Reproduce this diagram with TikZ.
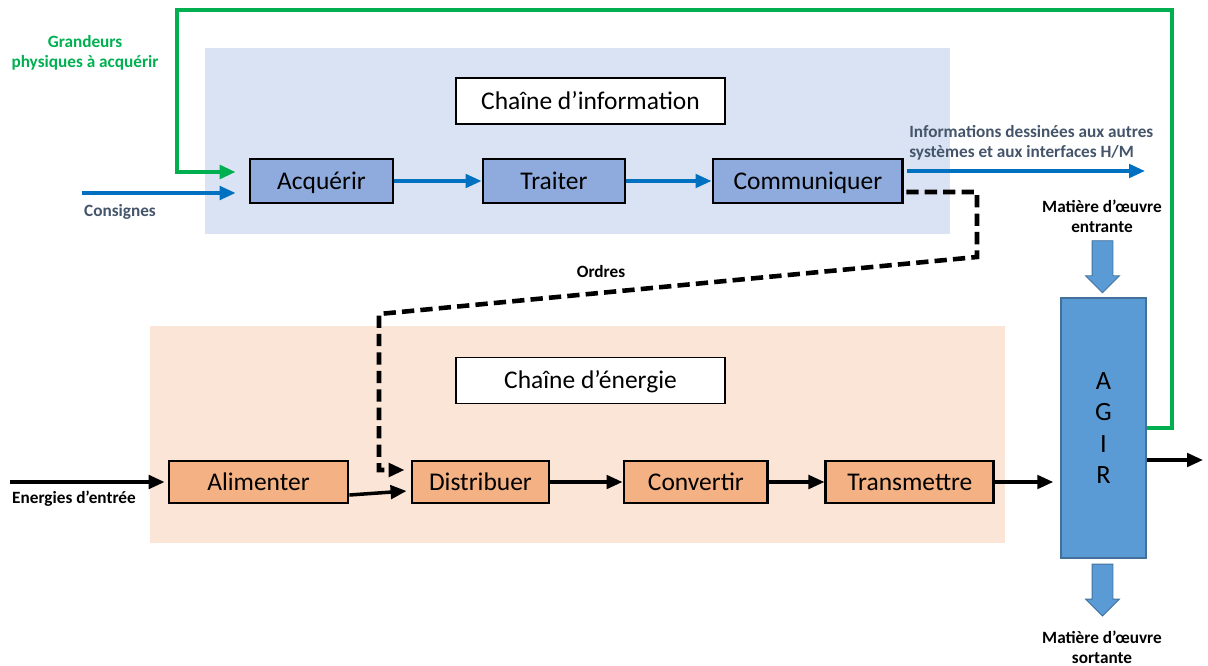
\documentclass[tikz,border=0pt]{standalone}
\usepackage{fontspec}
\setmainfont{Carlito}
\usetikzlibrary{shapes,arrows.meta,positioning,calc}
\usepackage{xcolor}
\definecolor{infofond}{HTML}{DAE3F3}
\definecolor{energiefond}{HTML}{FBE5D6}
\definecolor{infobleu}{HTML}{8FAADC}
\definecolor{energieorange}{HTML}{F4B183}
\definecolor{agirbleu}{HTML}{5B9BD5}
\definecolor{agirbord}{HTML}{41719C}
\definecolor{vert}{HTML}{00B050}
\definecolor{fleche}{HTML}{0070C0}
\definecolor{gris}{HTML}{44546A}
\newcommand{\blocfont}{\fontsize{14.5}{17}\selectfont}
\newcommand{\notefont}{\fontsize{9.8}{11.4}\selectfont\bfseries}
\tikzset{
    titre/.style={rectangle, draw, fill=white, line width=1.1pt, minimum width=5.38cm, minimum height=0.92cm, inner sep=0pt, text height=11pt, text depth=1.5pt, font=\blocfont},
    infobloc/.style={rectangle, draw, fill=infobleu, line width=1.6pt, minimum height=0.88cm, inner sep=0pt, text height=11pt, text depth=1.5pt, font=\blocfont},
    energiebloc/.style={rectangle, draw, fill=energieorange, line width=1.6pt, minimum height=0.84cm, inner sep=0pt, text height=11pt, text depth=1.5pt, font=\blocfont},
    agirbloc/.style={rectangle, draw=agirbord, fill=agirbleu, line width=0.8pt, minimum width=1.7cm, minimum height=5.2cm, align=center, font=\fontsize{15}{17.8}\selectfont},
    grossefleche/.style={single arrow, draw=agirbord, fill=agirbleu, line width=0.5pt, rotate=-90, inner xsep=0pt, inner ysep=0.2cm, minimum width=0.66cm, minimum height=1.04cm, single arrow head extend=0.13cm},
    note/.style={align=center, font=\notefont, inner sep=0pt},
    line/.style={draw, -{Triangle[length=0.32cm, width=0.27cm]}, line width=2pt},
    bleu/.style={line, fleche},
    noir/.style={line, black},
    ordre/.style={line, black, dash pattern=on 7pt off 3.5pt, line width=2.6pt},
    capteur/.style={line, vert, line width=2.4pt}
}
\begin{document}
\begin{tikzpicture}[x=0.02cm, y=-0.02cm]
    \useasboundingbox (0,0) rectangle (1208,666);
    \fill[infofond] (205,48) rectangle (950,234);
    \fill[energiefond] (150,326) rectangle (1005,543);

    \node [titre] (titreinfo) at (590.5,101) {Chaîne d’information};
    \node [titre] (titreenergie) at (590.5,380.5) {Chaîne d’énergie};

    \node [infobloc, minimum width=2.86cm] (acquerir) at (321.5,181) {Acquérir};
    \node [infobloc, minimum width=2.84cm, right of=acquerir, node distance=4.65cm] (traiter) {Traiter};
    \node [infobloc, minimum width=3.8cm, right of=traiter, node distance=5.08cm] (communiquer) {Communiquer};

    \node [energiebloc, minimum width=3.58cm] (alimenter) at (258.5,482) {Alimenter};
    \node [energiebloc, minimum width=2.74cm, right of=alimenter, node distance=4.44cm] (distribuer) {Distribuer};
    \node [energiebloc, minimum width=2.88cm, right of=distribuer, node distance=4.31cm] (convertir) {Convertir};
    \node [energiebloc, minimum width=3.36cm, right of=convertir, node distance=4.28cm] (transmettre) {Transmettre};

    \node [agirbloc] (agir) at (1103.5,428) {A\\G\\I\\R};
    \node [grossefleche, anchor=tip] (entree) at ($(agir.north)+(-1,-4)$) {};
    \node [grossefleche, anchor=tail] (sortie) at ($(agir.south)+(-1,5)$) {};

    \node [note, vert] (grandeurs) at (85,53) {Grandeurs\\physiques à acquérir};
    \node [note, gris] (consignes) at (120,212) {Consignes};
    \node [note, gris, align=left, anchor=west] (informations) at (909,143) {Informations dessinées aux autres\\systèmes et aux interfaces H/M};
    \node [note] (mentrante) at (1102,216) {Matière d’œuvre\\entrante};
    \node [note] (msortante) at (1102,647) {Matière d’œuvre\\sortante};
    \node [note] (ordres) at (601,272) {Ordres};
    \node [note] (energies) at (74,499) {Energies d’entrée};

    \coordinate (depart) at (82,193);
    \coordinate (infofin) at (1145,171);
    \coordinate (source) at (10,482);
    \coordinate (agirfin) at (1203,460);

    \path [bleu] (depart) -- ($(acquerir.west)+(-13,12)$);
    \path [bleu] (acquerir) -- (traiter);
    \path [bleu] (traiter) -- (communiquer);
    \path [bleu] ($(communiquer.east)+(3,-10)$) -- (infofin);
    \path [capteur] (agir.east) -- (1172,428) -- (1172,10) -- (177,10) |- ($(acquerir.west)+(-13,-9)$);
    \path [ordre] ($(communiquer.east)+(2,11)$) -| (977,257) -- (379,314) |- ($(distribuer.west)+(-6,-12)$);

    \path [noir] (source) -- ($(alimenter.west)+(-3,0)$);
    \path [noir] ($(alimenter.east)+(0,13)$) -- ($(distribuer.west)+(-4,9)$);
    \path [noir] (distribuer) -- (convertir);
    \path [noir] (convertir) -- (transmettre);
    \path [noir, shorten >=4pt] (transmettre.east) -- (transmettre.east -| agir.west);
    \path [noir] ($(agir.east)+(0,32)$) -- (agirfin);
\end{tikzpicture}
\end{document}
